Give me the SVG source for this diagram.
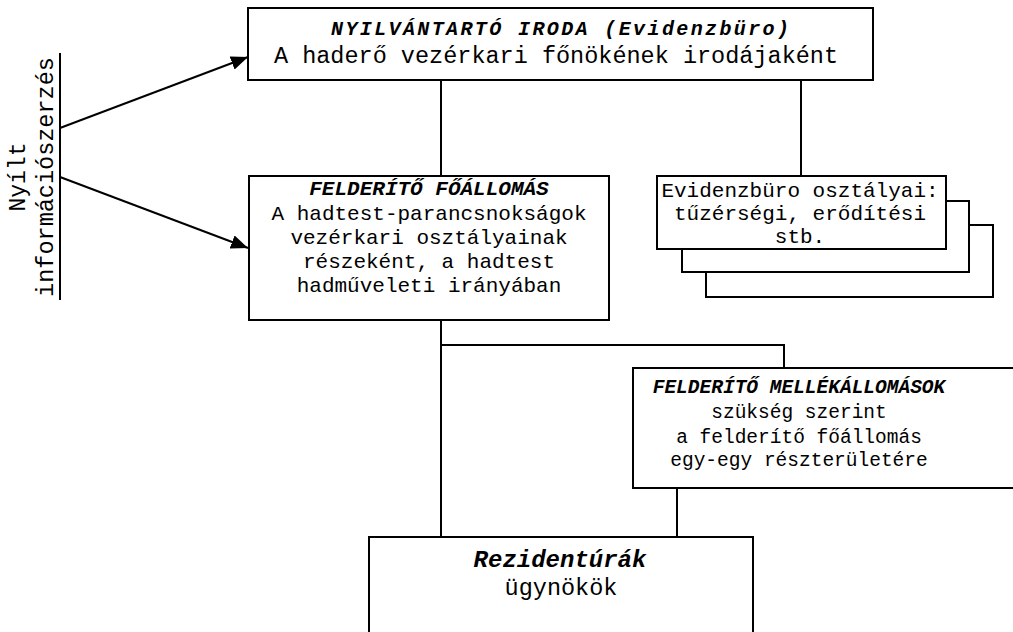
<svg xmlns="http://www.w3.org/2000/svg" width="1013" height="632" viewBox="0 0 1013 632">
<defs>
<style>
.box{fill:#fff;stroke:#000;stroke-width:2}
.ln{fill:none;stroke:#000;stroke-width:2}
text{font-family:"Liberation Mono","Courier New",monospace;fill:#000;text-anchor:middle}
.t{font-weight:bold;font-style:italic}
</style>
<marker id="ah" viewBox="0 0 10 10" refX="10" refY="5" markerWidth="17" markerHeight="14" markerUnits="userSpaceOnUse" orient="auto" preserveAspectRatio="none">
<path d="M0,0 L10,5 L0,10 z" fill="#000"/>
</marker>
</defs>
<rect width="1013" height="632" fill="#fff"/>
<g id="connectors">
<line class="ln" x1="441" y1="80" x2="441" y2="176"/>
<line class="ln" x1="801" y1="80" x2="801" y2="176"/>
<line class="ln" x1="441" y1="320" x2="441" y2="537"/>
<polyline class="ln" points="441,345 784,345 784,368"/>
<line class="ln" x1="677" y1="488" x2="677" y2="537"/>
<line class="ln" x1="60" y1="53" x2="60" y2="300"/>
<line class="ln" x1="60" y1="128" x2="248" y2="57" marker-end="url(#ah)"/>
<line class="ln" x1="60" y1="177" x2="248" y2="248" marker-end="url(#ah)"/>
</g>
<g id="label-nyilt">
<text transform="translate(25,177) rotate(-90)" font-size="23">Nyílt</text>
<text transform="translate(53,177) rotate(-90)" font-size="23.5">információszerzés</text>
</g>
<g id="node-iroda">
<rect class="box" x="248" y="8" width="625" height="72"/>
<text class="t" x="560" y="35" font-size="20" textLength="458" lengthAdjust="spacing">NYILVÁNTARTÓ IRODA (Evidenzbüro)</text>
<text x="556" y="63" font-size="23.5">A haderő vezérkari főnökének irodájaként</text>
</g>
<g id="node-foallomas">
<rect class="box" x="249" y="176" width="360" height="144"/>
<text class="t" x="429" y="195" font-size="21">FELDERÍTŐ FŐÁLLOMÁS</text>
<text x="429" y="220" font-size="21">A hadtest-parancsnokságok</text>
<text x="429" y="244" font-size="21">vezérkari osztályainak</text>
<text x="429" y="268" font-size="21">részeként, a hadtest</text>
<text x="429" y="292" font-size="21">hadműveleti irányában</text>
</g>
<g id="node-evidenzburo">
<rect class="box" x="706" y="225" width="287" height="72"/>
<rect class="box" x="682" y="201" width="287" height="71"/>
<rect class="box" x="657" y="176" width="289" height="73"/>
<text x="800" y="197" font-size="21">Evidenzbüro osztályai:</text>
<text x="800" y="220" font-size="21">tűzérségi, erődítési</text>
<text x="800" y="243" font-size="21">stb.</text>
</g>
<g id="node-mellek">
<rect class="box" x="633" y="368" width="390" height="120"/>
<text class="t" x="799" y="393" font-size="19.5">FELDERÍTŐ MELLÉKÁLLOMÁSOK</text>
<text x="799" y="418" font-size="19.5">szükség szerint</text>
<text x="799" y="443" font-size="19.5">a felderítő főállomás</text>
<text x="799" y="466" font-size="19.5">egy-egy részterületére</text>
</g>
<g id="node-rezidentura">
<rect class="box" x="369" y="537" width="384" height="110"/>
<text class="t" x="560" y="567" font-size="24">Rezidentúrák</text>
<text x="561" y="595" font-size="23.5">ügynökök</text>
</g>
</svg>
